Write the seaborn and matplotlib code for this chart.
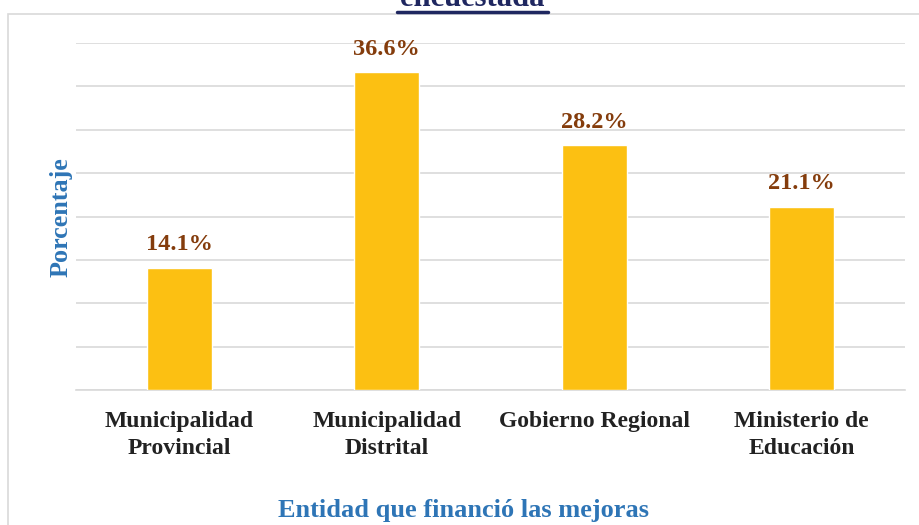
import matplotlib
matplotlib.use("Agg")
import matplotlib.pyplot as plt
from matplotlib.patches import Rectangle
import seaborn as sns
import pandas as pd

categorias = ["Municipalidad\nProvincial", "Municipalidad\nDistrital",
              "Gobierno Regional", "Ministerio de\nEducación"]
porcentajes = [14.1, 36.6, 28.2, 21.1]
etiquetas = ["14.1%", "36.6%", "28.2%", "21.1%"]

df = pd.DataFrame({"entidad": categorias, "porcentaje": porcentajes})

sns.set_theme(style="white")
plt.rcParams["font.family"] = ["Liberation Serif", "DejaVu Serif"]
plt.rcParams["font.weight"] = "bold"

fig = plt.figure(figsize=(9.19, 5.25), dpi=100)
ax = fig.add_axes([76 / 919, 1 - 390 / 525, (905 - 76) / 919, (390 - 43) / 525])

sns.barplot(data=df, x="entidad", y="porcentaje", color="#FCC012",
            width=0.314, saturation=1, ax=ax, zorder=3)

ax.set_ylim(0, 40)
ax.set_xlim(-0.5, 3.5)
ax.set_yticks(range(0, 41, 5))
ax.set_yticklabels([])
ax.yaxis.grid(True, color="#D9D9D9", linewidth=1.2, zorder=0)
ax.set_axisbelow(True)
for s in ["top", "right", "left"]:
    ax.spines[s].set_visible(False)
ax.spines["bottom"].set_color("#D9D9D9")
ax.spines["bottom"].set_linewidth(1.2)
ax.tick_params(axis="both", length=0)
ax.tick_params(axis="x", pad=15, labelsize=17, labelcolor="#222222")
for t in ax.get_xticklabels():
    t.set_fontweight("bold")
    t.set_linespacing(1.38)

for p, txt in zip(ax.patches, etiquetas):
    ax.annotate(txt, (p.get_x() + p.get_width() / 2, p.get_height()),
                xytext=(0, 9), textcoords="offset points",
                ha="center", va="bottom", fontsize=17.5, fontweight="bold",
                color="#843C0C")

ax.set_xlabel("")
ax.set_ylabel("")
fig.text(463 / 919, 1 - 511 / 525, "Entidad que financió las mejoras",
         ha="center", va="center", fontsize=19, fontweight="bold",
         color="#2E75B6")
fig.text(61 / 919, 1 - 217 / 525, "Porcentaje", rotation=90,
         ha="center", va="center", fontsize=18.8, fontweight="bold",
         color="#2E75B6")

# second line of the chart title, partly above the top edge
fig.text(472 / 919, 1 + 1 / 525, "encuestada", ha="center", va="center",
         fontsize=22, fontweight="bold", color="#1F2760")
fig.add_artist(plt.Line2D([397 / 919, 548 / 919], [1 - 12 / 525, 1 - 12 / 525],
                          color="#1F2760", linewidth=2.5,
                          transform=fig.transFigure))

# chart area border
fig.add_artist(Rectangle((8 / 919, -0.1), 1.2, 1 - 14 / 525 + 0.1,
                         transform=fig.transFigure, fill=False,
                         edgecolor="#D9D9D9", linewidth=1.2))

fig.savefig("out.png", dpi=100)
